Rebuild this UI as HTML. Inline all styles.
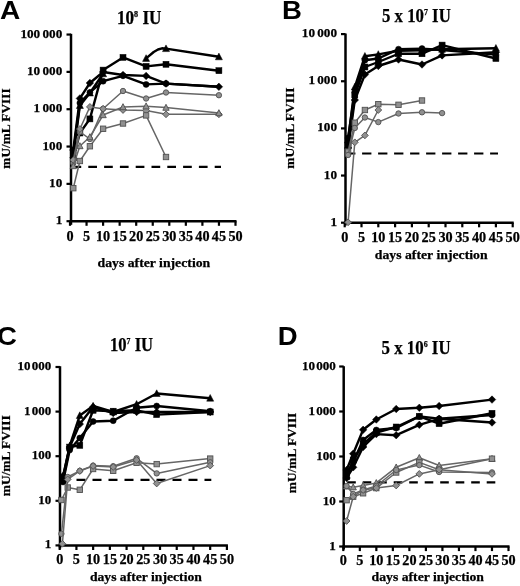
<!DOCTYPE html>
<html><head><meta charset="utf-8"><style>
html,body{margin:0;padding:0;background:#fff;}
svg{display:block;will-change:transform;}
</style></head><body>
<svg width="520" height="586" viewBox="0 0 520 586">
<rect width="520" height="586" fill="#fff"/>
<line x1="71.0" y1="33.8" x2="71.0" y2="224.8" stroke="#000" stroke-width="2.5"/>
<line x1="69.8" y1="221.2" x2="236.5" y2="221.2" stroke="#000" stroke-width="2.5"/>
<line x1="66.5" y1="221.2" x2="71.0" y2="221.2" stroke="#000" stroke-width="2.2"/>
<text x="62.3" y="224.2" font-size="13" font-family='"Liberation Serif", serif' font-weight="bold" text-anchor="end" textLength="6.6" lengthAdjust="spacingAndGlyphs" stroke="#000" stroke-width="0.25" >1</text>
<line x1="66.5" y1="183.87" x2="71.0" y2="183.87" stroke="#000" stroke-width="2.2"/>
<text x="62.3" y="186.9" font-size="13" font-family='"Liberation Serif", serif' font-weight="bold" text-anchor="end" textLength="13.2" lengthAdjust="spacingAndGlyphs" stroke="#000" stroke-width="0.25" >10</text>
<line x1="66.5" y1="146.54" x2="71.0" y2="146.54" stroke="#000" stroke-width="2.2"/>
<text x="62.3" y="149.5" font-size="13" font-family='"Liberation Serif", serif' font-weight="bold" text-anchor="end" textLength="19.8" lengthAdjust="spacingAndGlyphs" stroke="#000" stroke-width="0.25" >100</text>
<line x1="66.5" y1="109.21" x2="71.0" y2="109.21" stroke="#000" stroke-width="2.2"/>
<text x="62.3" y="112.2" font-size="13" font-family='"Liberation Serif", serif' font-weight="bold" text-anchor="end" textLength="19.8" lengthAdjust="spacingAndGlyphs" stroke="#000" stroke-width="0.25" >000</text>
<text x="40.2" y="112.2" font-size="13" font-family='"Liberation Serif", serif' font-weight="bold" text-anchor="end" textLength="6.6" lengthAdjust="spacingAndGlyphs" stroke="#000" stroke-width="0.25" >1</text>
<line x1="66.5" y1="71.88" x2="71.0" y2="71.88" stroke="#000" stroke-width="2.2"/>
<text x="62.3" y="74.9" font-size="13" font-family='"Liberation Serif", serif' font-weight="bold" text-anchor="end" textLength="19.8" lengthAdjust="spacingAndGlyphs" stroke="#000" stroke-width="0.25" >000</text>
<text x="40.2" y="74.9" font-size="13" font-family='"Liberation Serif", serif' font-weight="bold" text-anchor="end" textLength="13.2" lengthAdjust="spacingAndGlyphs" stroke="#000" stroke-width="0.25" >10</text>
<line x1="66.5" y1="34.55000000000001" x2="71.0" y2="34.55000000000001" stroke="#000" stroke-width="2.2"/>
<text x="62.3" y="37.6" font-size="13" font-family='"Liberation Serif", serif' font-weight="bold" text-anchor="end" textLength="19.8" lengthAdjust="spacingAndGlyphs" stroke="#000" stroke-width="0.25" >000</text>
<text x="40.2" y="37.6" font-size="13" font-family='"Liberation Serif", serif' font-weight="bold" text-anchor="end" textLength="19.8" lengthAdjust="spacingAndGlyphs" stroke="#000" stroke-width="0.25" >100</text>
<line x1="70.0" y1="221.2" x2="70.0" y2="225.79999999999998" stroke="#000" stroke-width="2.2"/>
<text x="70.0" y="240.8" font-size="14" font-family='"Liberation Serif", serif' font-weight="bold" text-anchor="middle" textLength="7.1" lengthAdjust="spacingAndGlyphs" stroke="#000" stroke-width="0.25" >0</text>
<line x1="86.55" y1="221.2" x2="86.55" y2="225.79999999999998" stroke="#000" stroke-width="2.2"/>
<text x="86.5" y="240.8" font-size="14" font-family='"Liberation Serif", serif' font-weight="bold" text-anchor="middle" textLength="7.1" lengthAdjust="spacingAndGlyphs" stroke="#000" stroke-width="0.25" >5</text>
<line x1="103.1" y1="221.2" x2="103.1" y2="225.79999999999998" stroke="#000" stroke-width="2.2"/>
<text x="103.1" y="240.8" font-size="14" font-family='"Liberation Serif", serif' font-weight="bold" text-anchor="middle" textLength="14.2" lengthAdjust="spacingAndGlyphs" stroke="#000" stroke-width="0.25" >10</text>
<line x1="119.65" y1="221.2" x2="119.65" y2="225.79999999999998" stroke="#000" stroke-width="2.2"/>
<text x="119.7" y="240.8" font-size="14" font-family='"Liberation Serif", serif' font-weight="bold" text-anchor="middle" textLength="14.2" lengthAdjust="spacingAndGlyphs" stroke="#000" stroke-width="0.25" >15</text>
<line x1="136.2" y1="221.2" x2="136.2" y2="225.79999999999998" stroke="#000" stroke-width="2.2"/>
<text x="136.2" y="240.8" font-size="14" font-family='"Liberation Serif", serif' font-weight="bold" text-anchor="middle" textLength="14.2" lengthAdjust="spacingAndGlyphs" stroke="#000" stroke-width="0.25" >20</text>
<line x1="152.75" y1="221.2" x2="152.75" y2="225.79999999999998" stroke="#000" stroke-width="2.2"/>
<text x="152.8" y="240.8" font-size="14" font-family='"Liberation Serif", serif' font-weight="bold" text-anchor="middle" textLength="14.2" lengthAdjust="spacingAndGlyphs" stroke="#000" stroke-width="0.25" >25</text>
<line x1="169.3" y1="221.2" x2="169.3" y2="225.79999999999998" stroke="#000" stroke-width="2.2"/>
<text x="169.3" y="240.8" font-size="14" font-family='"Liberation Serif", serif' font-weight="bold" text-anchor="middle" textLength="14.2" lengthAdjust="spacingAndGlyphs" stroke="#000" stroke-width="0.25" >30</text>
<line x1="185.85000000000002" y1="221.2" x2="185.85000000000002" y2="225.79999999999998" stroke="#000" stroke-width="2.2"/>
<text x="185.9" y="240.8" font-size="14" font-family='"Liberation Serif", serif' font-weight="bold" text-anchor="middle" textLength="14.2" lengthAdjust="spacingAndGlyphs" stroke="#000" stroke-width="0.25" >35</text>
<line x1="202.4" y1="221.2" x2="202.4" y2="225.79999999999998" stroke="#000" stroke-width="2.2"/>
<text x="202.4" y="240.8" font-size="14" font-family='"Liberation Serif", serif' font-weight="bold" text-anchor="middle" textLength="14.2" lengthAdjust="spacingAndGlyphs" stroke="#000" stroke-width="0.25" >40</text>
<line x1="218.95" y1="221.2" x2="218.95" y2="225.79999999999998" stroke="#000" stroke-width="2.2"/>
<text x="218.9" y="240.8" font-size="14" font-family='"Liberation Serif", serif' font-weight="bold" text-anchor="middle" textLength="14.2" lengthAdjust="spacingAndGlyphs" stroke="#000" stroke-width="0.25" >45</text>
<line x1="235.5" y1="221.2" x2="235.5" y2="225.79999999999998" stroke="#000" stroke-width="2.2"/>
<text x="235.5" y="240.8" font-size="14" font-family='"Liberation Serif", serif' font-weight="bold" text-anchor="middle" textLength="14.2" lengthAdjust="spacingAndGlyphs" stroke="#000" stroke-width="0.25" >50</text>
<text x="97.6" y="266.7" font-size="13" font-family='"Liberation Serif", serif' font-weight="bold" text-anchor="start" textLength="112.6" lengthAdjust="spacingAndGlyphs" stroke="#000" stroke-width="0.25" >days after injection</text>
<text transform="translate(10.3,128.55) rotate(-90)" x="0" y="0" font-size="13.5" font-family='"Liberation Serif", serif' font-weight="bold" stroke="#000" stroke-width="0.25" text-anchor="middle" textLength="80.3" lengthAdjust="spacingAndGlyphs">mU/mL FVIII</text>
<text transform="translate(0.1,18.5) scale(1.1,1)" font-size="25.5" font-family='"Liberation Sans", sans-serif' font-weight="bold">A</text>
<text x="116.9" y="23.8" font-size="18" font-family='"Liberation Serif", serif' font-weight="bold" stroke="#000" stroke-width="0.25" textLength="44.6" lengthAdjust="spacingAndGlyphs">10<tspan font-size="8.5" dy="-6.8">8</tspan><tspan dy="6.8"> IU</tspan></text>
<line x1="72.5" y1="166.8" x2="221" y2="166.8" stroke="#000" stroke-width="2.2" stroke-dasharray="8.7 7.1"/>
<polyline points="73.3,158 79.9,133 89.9,118.9 103.1,70.1 123.0,57.4 146.1,66.4 166.0,64.3 218.9,70.7" fill="none" stroke="#000" stroke-width="2.4" stroke-linejoin="round"/>
<rect x="70.3" y="155.0" width="6.0" height="6.0" fill="#000" stroke="#000" stroke-width="0.5"/>
<rect x="76.9" y="130.0" width="6.0" height="6.0" fill="#000" stroke="#000" stroke-width="0.5"/>
<rect x="86.9" y="115.9" width="6.0" height="6.0" fill="#000" stroke="#000" stroke-width="0.5"/>
<rect x="100.1" y="67.1" width="6.0" height="6.0" fill="#000" stroke="#000" stroke-width="0.5"/>
<rect x="120.0" y="54.4" width="6.0" height="6.0" fill="#000" stroke="#000" stroke-width="0.5"/>
<rect x="143.1" y="63.400000000000006" width="6.0" height="6.0" fill="#000" stroke="#000" stroke-width="0.5"/>
<rect x="163.0" y="61.3" width="6.0" height="6.0" fill="#000" stroke="#000" stroke-width="0.5"/>
<rect x="215.9" y="67.7" width="6.0" height="6.0" fill="#000" stroke="#000" stroke-width="0.5"/>
<polyline points="73.3,150 79.9,98.4 89.9,83.0 103.1,72.0 123.0,75.0 146.1,75.9 166.0,83.6 218.9,86.8" fill="none" stroke="#000" stroke-width="2.4" stroke-linejoin="round"/>
<polygon points="73.3,146.25 77.05,150 73.3,153.75 69.55,150" fill="#000" stroke="#000" stroke-width="0.5"/>
<polygon points="79.9,94.65 83.65,98.4 79.9,102.15 76.15,98.4" fill="#000" stroke="#000" stroke-width="0.5"/>
<polygon points="89.9,79.25 93.65,83.0 89.9,86.75 86.15,83.0" fill="#000" stroke="#000" stroke-width="0.5"/>
<polygon points="103.1,68.25 106.85,72.0 103.1,75.75 99.35,72.0" fill="#000" stroke="#000" stroke-width="0.5"/>
<polygon points="123.0,71.25 126.75,75.0 123.0,78.75 119.25,75.0" fill="#000" stroke="#000" stroke-width="0.5"/>
<polygon points="146.1,72.15 149.85,75.9 146.1,79.65 142.35,75.9" fill="#000" stroke="#000" stroke-width="0.5"/>
<polygon points="166.0,79.85 169.75,83.6 166.0,87.35 162.25,83.6" fill="#000" stroke="#000" stroke-width="0.5"/>
<polygon points="218.9,83.05 222.65,86.8 218.9,90.55 215.15,86.8" fill="#000" stroke="#000" stroke-width="0.5"/>
<polyline points="73.3,153 79.9,103.0 89.9,92.4 103.1,81.2 123.0,75.8 146.1,84.4 166.0,83.6 218.9,86.8" fill="none" stroke="#000" stroke-width="2.4" stroke-linejoin="round"/>
<circle cx="73.3" cy="153" r="3.0" fill="#000" stroke="#000" stroke-width="0.5"/>
<circle cx="79.9" cy="103.0" r="3.0" fill="#000" stroke="#000" stroke-width="0.5"/>
<circle cx="89.9" cy="92.4" r="3.0" fill="#000" stroke="#000" stroke-width="0.5"/>
<circle cx="103.1" cy="81.2" r="3.0" fill="#000" stroke="#000" stroke-width="0.5"/>
<circle cx="123.0" cy="75.8" r="3.0" fill="#000" stroke="#000" stroke-width="0.5"/>
<circle cx="146.1" cy="84.4" r="3.0" fill="#000" stroke="#000" stroke-width="0.5"/>
<circle cx="166.0" cy="83.6" r="3.0" fill="#000" stroke="#000" stroke-width="0.5"/>
<polyline points="73.3,155 79.9,105.5 89.9,93.0 103.1,73.8" fill="none" stroke="#000" stroke-width="2.4" stroke-linejoin="round"/>
<polygon points="73.3,151.3145 76.81,157.9835 69.78999999999999,157.9835" fill="#000" stroke="#000" stroke-width="0.5"/>
<polygon points="79.9,101.8145 83.41000000000001,108.4835 76.39,108.4835" fill="#000" stroke="#000" stroke-width="0.5"/>
<polygon points="89.9,89.3145 93.41000000000001,95.9835 86.39,95.9835" fill="#000" stroke="#000" stroke-width="0.5"/>
<polygon points="103.1,70.11449999999999 106.61,76.7835 99.58999999999999,76.7835" fill="#000" stroke="#000" stroke-width="0.5"/>
<polyline points="146.1,58.4 153.7,52.0 158.0,49.5 162.0,48.3 166.0,48.6 218.9,56.8" fill="none" stroke="#000" stroke-width="2.4" stroke-linejoin="round"/>
<polygon points="146.1,54.7145 149.60999999999999,61.3835 142.59,61.3835" fill="#000" stroke="#000" stroke-width="0.5"/>
<polygon points="166.0,44.914500000000004 169.51,51.5835 162.49,51.5835" fill="#000" stroke="#000" stroke-width="0.5"/>
<polygon points="218.9,53.1145 222.41,59.7835 215.39000000000001,59.7835" fill="#000" stroke="#000" stroke-width="0.5"/>
<polyline points="73.3,163 79.9,131.9 89.9,139 103.1,108.75 123.0,91 146.1,98.5 166.0,92.5 218.9,95.2" fill="none" stroke="#666666" stroke-width="1.5" stroke-linejoin="round"/>
<circle cx="73.3" cy="163" r="2.7" fill="#909090" stroke="#505050" stroke-width="0.9"/>
<circle cx="79.9" cy="131.9" r="2.7" fill="#909090" stroke="#505050" stroke-width="0.9"/>
<circle cx="89.9" cy="139" r="2.7" fill="#909090" stroke="#505050" stroke-width="0.9"/>
<circle cx="103.1" cy="108.75" r="2.7" fill="#909090" stroke="#505050" stroke-width="0.9"/>
<circle cx="123.0" cy="91" r="2.7" fill="#909090" stroke="#505050" stroke-width="0.9"/>
<circle cx="146.1" cy="98.5" r="2.7" fill="#909090" stroke="#505050" stroke-width="0.9"/>
<circle cx="166.0" cy="92.5" r="2.7" fill="#909090" stroke="#505050" stroke-width="0.9"/>
<circle cx="218.9" cy="95.2" r="2.7" fill="#909090" stroke="#505050" stroke-width="0.9"/>
<polyline points="73.3,160 79.9,129 89.9,106.9 103.1,108.75 123.0,110 146.1,110.5 166.0,114.3 218.9,114.3" fill="none" stroke="#666666" stroke-width="1.5" stroke-linejoin="round"/>
<polygon points="73.3,156.625 76.675,160 73.3,163.375 69.925,160" fill="#909090" stroke="#505050" stroke-width="0.9"/>
<polygon points="79.9,125.625 83.275,129 79.9,132.375 76.525,129" fill="#909090" stroke="#505050" stroke-width="0.9"/>
<polygon points="89.9,103.525 93.275,106.9 89.9,110.275 86.525,106.9" fill="#909090" stroke="#505050" stroke-width="0.9"/>
<polygon points="103.1,105.375 106.475,108.75 103.1,112.125 99.725,108.75" fill="#909090" stroke="#505050" stroke-width="0.9"/>
<polygon points="123.0,106.625 126.375,110 123.0,113.375 119.625,110" fill="#909090" stroke="#505050" stroke-width="0.9"/>
<polygon points="146.1,107.125 149.475,110.5 146.1,113.875 142.725,110.5" fill="#909090" stroke="#505050" stroke-width="0.9"/>
<polygon points="166.0,110.925 169.375,114.3 166.0,117.675 162.625,114.3" fill="#909090" stroke="#505050" stroke-width="0.9"/>
<polygon points="218.9,110.925 222.275,114.3 218.9,117.675 215.525,114.3" fill="#909090" stroke="#505050" stroke-width="0.9"/>
<polyline points="73.3,166 79.9,146 89.9,137 103.1,115 123.0,107 146.1,106.2 166.0,107.6 218.9,113" fill="none" stroke="#666666" stroke-width="1.5" stroke-linejoin="round"/>
<polygon points="73.3,162.68305 76.459,168.68515 70.14099999999999,168.68515" fill="#909090" stroke="#505050" stroke-width="0.9"/>
<polygon points="79.9,142.68305 83.05900000000001,148.68515 76.741,148.68515" fill="#909090" stroke="#505050" stroke-width="0.9"/>
<polygon points="89.9,133.68305 93.05900000000001,139.68515 86.741,139.68515" fill="#909090" stroke="#505050" stroke-width="0.9"/>
<polygon points="103.1,111.68305 106.259,117.68515 99.94099999999999,117.68515" fill="#909090" stroke="#505050" stroke-width="0.9"/>
<polygon points="123.0,103.68305 126.159,109.68515 119.841,109.68515" fill="#909090" stroke="#505050" stroke-width="0.9"/>
<polygon points="146.1,102.88305 149.259,108.88515 142.941,108.88515" fill="#909090" stroke="#505050" stroke-width="0.9"/>
<polygon points="166.0,104.28304999999999 169.159,110.28514999999999 162.841,110.28514999999999" fill="#909090" stroke="#505050" stroke-width="0.9"/>
<polygon points="218.9,109.68305 222.059,115.68515 215.741,115.68515" fill="#909090" stroke="#505050" stroke-width="0.9"/>
<polyline points="73.3,188.2 79.9,161 89.9,146.25 103.1,128.75 123.0,123.5 146.1,115.4 166.0,157" fill="none" stroke="#666666" stroke-width="1.5" stroke-linejoin="round"/>
<rect x="70.6" y="185.5" width="5.4" height="5.4" fill="#909090" stroke="#505050" stroke-width="0.9"/>
<rect x="77.2" y="158.3" width="5.4" height="5.4" fill="#909090" stroke="#505050" stroke-width="0.9"/>
<rect x="87.2" y="143.55" width="5.4" height="5.4" fill="#909090" stroke="#505050" stroke-width="0.9"/>
<rect x="100.39999999999999" y="126.05" width="5.4" height="5.4" fill="#909090" stroke="#505050" stroke-width="0.9"/>
<rect x="120.3" y="120.8" width="5.4" height="5.4" fill="#909090" stroke="#505050" stroke-width="0.9"/>
<rect x="143.4" y="112.7" width="5.4" height="5.4" fill="#909090" stroke="#505050" stroke-width="0.9"/>
<rect x="163.3" y="154.3" width="5.4" height="5.4" fill="#909090" stroke="#505050" stroke-width="0.9"/>
<line x1="345.5" y1="33.5" x2="345.5" y2="225.5" stroke="#000" stroke-width="2.5"/>
<line x1="344.3" y1="222.7" x2="513.7" y2="222.7" stroke="#000" stroke-width="2.5"/>
<line x1="341.0" y1="222.7" x2="345.5" y2="222.7" stroke="#000" stroke-width="2.2"/>
<text x="337.0" y="225.7" font-size="13" font-family='"Liberation Serif", serif' font-weight="bold" text-anchor="end" textLength="6.6" lengthAdjust="spacingAndGlyphs" stroke="#000" stroke-width="0.25" >1</text>
<line x1="341.0" y1="175.54999999999998" x2="345.5" y2="175.54999999999998" stroke="#000" stroke-width="2.2"/>
<text x="337.0" y="178.5" font-size="13" font-family='"Liberation Serif", serif' font-weight="bold" text-anchor="end" textLength="13.2" lengthAdjust="spacingAndGlyphs" stroke="#000" stroke-width="0.25" >10</text>
<line x1="341.0" y1="128.39999999999998" x2="345.5" y2="128.39999999999998" stroke="#000" stroke-width="2.2"/>
<text x="337.0" y="131.4" font-size="13" font-family='"Liberation Serif", serif' font-weight="bold" text-anchor="end" textLength="19.8" lengthAdjust="spacingAndGlyphs" stroke="#000" stroke-width="0.25" >100</text>
<line x1="341.0" y1="81.25" x2="345.5" y2="81.25" stroke="#000" stroke-width="2.2"/>
<text x="337.0" y="84.2" font-size="13" font-family='"Liberation Serif", serif' font-weight="bold" text-anchor="end" textLength="19.8" lengthAdjust="spacingAndGlyphs" stroke="#000" stroke-width="0.25" >000</text>
<text x="315.0" y="84.2" font-size="13" font-family='"Liberation Serif", serif' font-weight="bold" text-anchor="end" textLength="6.6" lengthAdjust="spacingAndGlyphs" stroke="#000" stroke-width="0.25" >1</text>
<line x1="341.0" y1="34.099999999999994" x2="345.5" y2="34.099999999999994" stroke="#000" stroke-width="2.2"/>
<text x="337.0" y="37.1" font-size="13" font-family='"Liberation Serif", serif' font-weight="bold" text-anchor="end" textLength="19.8" lengthAdjust="spacingAndGlyphs" stroke="#000" stroke-width="0.25" >000</text>
<text x="315.0" y="37.1" font-size="13" font-family='"Liberation Serif", serif' font-weight="bold" text-anchor="end" textLength="13.2" lengthAdjust="spacingAndGlyphs" stroke="#000" stroke-width="0.25" >10</text>
<line x1="344.7" y1="222.7" x2="344.7" y2="227.29999999999998" stroke="#000" stroke-width="2.2"/>
<text x="344.7" y="242.3" font-size="14" font-family='"Liberation Serif", serif' font-weight="bold" text-anchor="middle" textLength="7.1" lengthAdjust="spacingAndGlyphs" stroke="#000" stroke-width="0.25" >0</text>
<line x1="361.5" y1="222.7" x2="361.5" y2="227.29999999999998" stroke="#000" stroke-width="2.2"/>
<text x="361.5" y="242.3" font-size="14" font-family='"Liberation Serif", serif' font-weight="bold" text-anchor="middle" textLength="7.1" lengthAdjust="spacingAndGlyphs" stroke="#000" stroke-width="0.25" >5</text>
<line x1="378.3" y1="222.7" x2="378.3" y2="227.29999999999998" stroke="#000" stroke-width="2.2"/>
<text x="378.3" y="242.3" font-size="14" font-family='"Liberation Serif", serif' font-weight="bold" text-anchor="middle" textLength="14.2" lengthAdjust="spacingAndGlyphs" stroke="#000" stroke-width="0.25" >10</text>
<line x1="395.09999999999997" y1="222.7" x2="395.09999999999997" y2="227.29999999999998" stroke="#000" stroke-width="2.2"/>
<text x="395.1" y="242.3" font-size="14" font-family='"Liberation Serif", serif' font-weight="bold" text-anchor="middle" textLength="14.2" lengthAdjust="spacingAndGlyphs" stroke="#000" stroke-width="0.25" >15</text>
<line x1="411.9" y1="222.7" x2="411.9" y2="227.29999999999998" stroke="#000" stroke-width="2.2"/>
<text x="411.9" y="242.3" font-size="14" font-family='"Liberation Serif", serif' font-weight="bold" text-anchor="middle" textLength="14.2" lengthAdjust="spacingAndGlyphs" stroke="#000" stroke-width="0.25" >20</text>
<line x1="428.7" y1="222.7" x2="428.7" y2="227.29999999999998" stroke="#000" stroke-width="2.2"/>
<text x="428.7" y="242.3" font-size="14" font-family='"Liberation Serif", serif' font-weight="bold" text-anchor="middle" textLength="14.2" lengthAdjust="spacingAndGlyphs" stroke="#000" stroke-width="0.25" >25</text>
<line x1="445.5" y1="222.7" x2="445.5" y2="227.29999999999998" stroke="#000" stroke-width="2.2"/>
<text x="445.5" y="242.3" font-size="14" font-family='"Liberation Serif", serif' font-weight="bold" text-anchor="middle" textLength="14.2" lengthAdjust="spacingAndGlyphs" stroke="#000" stroke-width="0.25" >30</text>
<line x1="462.29999999999995" y1="222.7" x2="462.29999999999995" y2="227.29999999999998" stroke="#000" stroke-width="2.2"/>
<text x="462.3" y="242.3" font-size="14" font-family='"Liberation Serif", serif' font-weight="bold" text-anchor="middle" textLength="14.2" lengthAdjust="spacingAndGlyphs" stroke="#000" stroke-width="0.25" >35</text>
<line x1="479.1" y1="222.7" x2="479.1" y2="227.29999999999998" stroke="#000" stroke-width="2.2"/>
<text x="479.1" y="242.3" font-size="14" font-family='"Liberation Serif", serif' font-weight="bold" text-anchor="middle" textLength="14.2" lengthAdjust="spacingAndGlyphs" stroke="#000" stroke-width="0.25" >40</text>
<line x1="495.9" y1="222.7" x2="495.9" y2="227.29999999999998" stroke="#000" stroke-width="2.2"/>
<text x="495.9" y="242.3" font-size="14" font-family='"Liberation Serif", serif' font-weight="bold" text-anchor="middle" textLength="14.2" lengthAdjust="spacingAndGlyphs" stroke="#000" stroke-width="0.25" >45</text>
<line x1="512.7" y1="222.7" x2="512.7" y2="227.29999999999998" stroke="#000" stroke-width="2.2"/>
<text x="512.7" y="242.3" font-size="14" font-family='"Liberation Serif", serif' font-weight="bold" text-anchor="middle" textLength="14.2" lengthAdjust="spacingAndGlyphs" stroke="#000" stroke-width="0.25" >50</text>
<text x="374.8" y="259.4" font-size="13" font-family='"Liberation Serif", serif' font-weight="bold" text-anchor="start" textLength="112.8" lengthAdjust="spacingAndGlyphs" stroke="#000" stroke-width="0.25" >days after injection</text>
<text transform="translate(293.6,128.1) rotate(-90)" x="0" y="0" font-size="13.5" font-family='"Liberation Serif", serif' font-weight="bold" stroke="#000" stroke-width="0.25" text-anchor="middle" textLength="81.2" lengthAdjust="spacingAndGlyphs">mU/mL FVIII</text>
<text transform="translate(282.1,18.8) scale(1.08,1)" font-size="25.5" font-family='"Liberation Sans", sans-serif' font-weight="bold">B</text>
<text x="382.0" y="21.5" font-size="18" font-family='"Liberation Serif", serif' font-weight="bold" stroke="#000" stroke-width="0.25" textLength="68.8" lengthAdjust="spacingAndGlyphs">5 x 10<tspan font-size="8.5" dy="-6.8">7</tspan><tspan dy="6.8"> IU</tspan></text>
<line x1="346.1" y1="153.5" x2="498" y2="153.5" stroke="#000" stroke-width="2.2" stroke-dasharray="9.3 6.7"/>
<polyline points="348.1,140 354.8,87 364.9,56.2 378.3,54.4 398.5,50.8 422.0,50.2 442.1,49.2 495.9,48.2" fill="none" stroke="#000" stroke-width="2.4" stroke-linejoin="round"/>
<polygon points="348.1,136.3145 351.61,142.9835 344.59000000000003,142.9835" fill="#000" stroke="#000" stroke-width="0.5"/>
<polygon points="354.8,83.3145 358.31,89.9835 351.29,89.9835" fill="#000" stroke="#000" stroke-width="0.5"/>
<polygon points="364.9,52.514500000000005 368.40999999999997,59.1835 361.39,59.1835" fill="#000" stroke="#000" stroke-width="0.5"/>
<polygon points="378.3,50.7145 381.81,57.3835 374.79,57.3835" fill="#000" stroke="#000" stroke-width="0.5"/>
<polygon points="398.5,47.1145 402.01,53.7835 394.99,53.7835" fill="#000" stroke="#000" stroke-width="0.5"/>
<polygon points="422.0,46.514500000000005 425.51,53.1835 418.49,53.1835" fill="#000" stroke="#000" stroke-width="0.5"/>
<polygon points="442.1,45.514500000000005 445.61,52.1835 438.59000000000003,52.1835" fill="#000" stroke="#000" stroke-width="0.5"/>
<polygon points="495.9,44.514500000000005 499.40999999999997,51.1835 492.39,51.1835" fill="#000" stroke="#000" stroke-width="0.5"/>
<polyline points="348.1,145 354.8,95 364.9,67 378.3,62 398.5,53.75 422.0,53.75 442.1,45.1 495.9,58.5" fill="none" stroke="#000" stroke-width="2.4" stroke-linejoin="round"/>
<rect x="345.1" y="142.0" width="6.0" height="6.0" fill="#000" stroke="#000" stroke-width="0.5"/>
<rect x="351.8" y="92.0" width="6.0" height="6.0" fill="#000" stroke="#000" stroke-width="0.5"/>
<rect x="361.9" y="64.0" width="6.0" height="6.0" fill="#000" stroke="#000" stroke-width="0.5"/>
<rect x="375.3" y="59.0" width="6.0" height="6.0" fill="#000" stroke="#000" stroke-width="0.5"/>
<rect x="395.5" y="50.75" width="6.0" height="6.0" fill="#000" stroke="#000" stroke-width="0.5"/>
<rect x="419.0" y="50.75" width="6.0" height="6.0" fill="#000" stroke="#000" stroke-width="0.5"/>
<rect x="439.1" y="42.1" width="6.0" height="6.0" fill="#000" stroke="#000" stroke-width="0.5"/>
<rect x="492.9" y="55.5" width="6.0" height="6.0" fill="#000" stroke="#000" stroke-width="0.5"/>
<polyline points="348.1,148 354.8,100 364.9,74.6 378.3,66 398.5,59.5 422.0,64.5 442.1,55.4 495.9,52.3" fill="none" stroke="#000" stroke-width="2.4" stroke-linejoin="round"/>
<polygon points="348.1,144.25 351.85,148 348.1,151.75 344.35,148" fill="#000" stroke="#000" stroke-width="0.5"/>
<polygon points="354.8,96.25 358.55,100 354.8,103.75 351.05,100" fill="#000" stroke="#000" stroke-width="0.5"/>
<polygon points="364.9,70.85 368.65,74.6 364.9,78.35 361.15,74.6" fill="#000" stroke="#000" stroke-width="0.5"/>
<polygon points="378.3,62.25 382.05,66 378.3,69.75 374.55,66" fill="#000" stroke="#000" stroke-width="0.5"/>
<polygon points="398.5,55.75 402.25,59.5 398.5,63.25 394.75,59.5" fill="#000" stroke="#000" stroke-width="0.5"/>
<polygon points="422.0,60.75 425.75,64.5 422.0,68.25 418.25,64.5" fill="#000" stroke="#000" stroke-width="0.5"/>
<polygon points="442.1,51.65 445.85,55.4 442.1,59.15 438.35,55.4" fill="#000" stroke="#000" stroke-width="0.5"/>
<polygon points="495.9,48.55 499.65,52.3 495.9,56.05 492.15,52.3" fill="#000" stroke="#000" stroke-width="0.5"/>
<polyline points="348.1,138 354.8,92 364.9,60.2 378.3,58.5 398.5,49.2 422.0,48.6 442.1,50 495.9,54.6" fill="none" stroke="#000" stroke-width="2.4" stroke-linejoin="round"/>
<circle cx="348.1" cy="138" r="3.0" fill="#000" stroke="#000" stroke-width="0.5"/>
<circle cx="354.8" cy="92" r="3.0" fill="#000" stroke="#000" stroke-width="0.5"/>
<circle cx="364.9" cy="60.2" r="3.0" fill="#000" stroke="#000" stroke-width="0.5"/>
<circle cx="378.3" cy="58.5" r="3.0" fill="#000" stroke="#000" stroke-width="0.5"/>
<circle cx="398.5" cy="49.2" r="3.0" fill="#000" stroke="#000" stroke-width="0.5"/>
<circle cx="422.0" cy="48.6" r="3.0" fill="#000" stroke="#000" stroke-width="0.5"/>
<circle cx="442.1" cy="50" r="3.0" fill="#000" stroke="#000" stroke-width="0.5"/>
<circle cx="495.9" cy="54.6" r="3.0" fill="#000" stroke="#000" stroke-width="0.5"/>
<polyline points="348.1,151.6 354.8,122.7 364.9,110 378.3,104.2 398.5,104.8 422.0,100.5" fill="none" stroke="#666666" stroke-width="1.5" stroke-linejoin="round"/>
<rect x="345.40000000000003" y="148.9" width="5.4" height="5.4" fill="#909090" stroke="#505050" stroke-width="0.9"/>
<rect x="352.1" y="120.0" width="5.4" height="5.4" fill="#909090" stroke="#505050" stroke-width="0.9"/>
<rect x="362.2" y="107.3" width="5.4" height="5.4" fill="#909090" stroke="#505050" stroke-width="0.9"/>
<rect x="375.6" y="101.5" width="5.4" height="5.4" fill="#909090" stroke="#505050" stroke-width="0.9"/>
<rect x="395.8" y="102.1" width="5.4" height="5.4" fill="#909090" stroke="#505050" stroke-width="0.9"/>
<rect x="419.3" y="97.8" width="5.4" height="5.4" fill="#909090" stroke="#505050" stroke-width="0.9"/>
<polyline points="348.1,155 354.8,128 364.9,117.5 378.3,122.1 398.5,113.5 422.0,112.3 442.1,113.1" fill="none" stroke="#666666" stroke-width="1.5" stroke-linejoin="round"/>
<circle cx="348.1" cy="155" r="2.7" fill="#909090" stroke="#505050" stroke-width="0.9"/>
<circle cx="354.8" cy="128" r="2.7" fill="#909090" stroke="#505050" stroke-width="0.9"/>
<circle cx="364.9" cy="117.5" r="2.7" fill="#909090" stroke="#505050" stroke-width="0.9"/>
<circle cx="378.3" cy="122.1" r="2.7" fill="#909090" stroke="#505050" stroke-width="0.9"/>
<circle cx="398.5" cy="113.5" r="2.7" fill="#909090" stroke="#505050" stroke-width="0.9"/>
<circle cx="422.0" cy="112.3" r="2.7" fill="#909090" stroke="#505050" stroke-width="0.9"/>
<circle cx="442.1" cy="113.1" r="2.7" fill="#909090" stroke="#505050" stroke-width="0.9"/>
<polyline points="348.1,222.3 354.8,142.3 364.9,135.4 378.3,110" fill="none" stroke="#666666" stroke-width="1.5" stroke-linejoin="round"/>
<polygon points="348.1,218.925 351.475,222.3 348.1,225.675 344.725,222.3" fill="#909090" stroke="#505050" stroke-width="0.9"/>
<polygon points="354.8,138.925 358.175,142.3 354.8,145.675 351.425,142.3" fill="#909090" stroke="#505050" stroke-width="0.9"/>
<polygon points="364.9,132.025 368.275,135.4 364.9,138.775 361.525,135.4" fill="#909090" stroke="#505050" stroke-width="0.9"/>
<polygon points="378.3,106.625 381.675,110 378.3,113.375 374.925,110" fill="#909090" stroke="#505050" stroke-width="0.9"/>
<line x1="60.0" y1="366.2" x2="60.0" y2="548.5" stroke="#000" stroke-width="2.5"/>
<line x1="58.8" y1="545.4" x2="227.89999999999998" y2="545.4" stroke="#000" stroke-width="2.5"/>
<line x1="55.5" y1="545.4" x2="60.0" y2="545.4" stroke="#000" stroke-width="2.2"/>
<text x="51.2" y="548.4" font-size="13" font-family='"Liberation Serif", serif' font-weight="bold" text-anchor="end" textLength="6.5" lengthAdjust="spacingAndGlyphs" stroke="#000" stroke-width="0.25" >1</text>
<line x1="55.5" y1="500.79999999999995" x2="60.0" y2="500.79999999999995" stroke="#000" stroke-width="2.2"/>
<text x="51.2" y="503.8" font-size="13" font-family='"Liberation Serif", serif' font-weight="bold" text-anchor="end" textLength="13.0" lengthAdjust="spacingAndGlyphs" stroke="#000" stroke-width="0.25" >10</text>
<line x1="55.5" y1="456.2" x2="60.0" y2="456.2" stroke="#000" stroke-width="2.2"/>
<text x="51.2" y="459.2" font-size="13" font-family='"Liberation Serif", serif' font-weight="bold" text-anchor="end" textLength="19.5" lengthAdjust="spacingAndGlyphs" stroke="#000" stroke-width="0.25" >100</text>
<line x1="55.5" y1="411.59999999999997" x2="60.0" y2="411.59999999999997" stroke="#000" stroke-width="2.2"/>
<text x="51.2" y="414.6" font-size="13" font-family='"Liberation Serif", serif' font-weight="bold" text-anchor="end" textLength="19.5" lengthAdjust="spacingAndGlyphs" stroke="#000" stroke-width="0.25" >000</text>
<text x="30.6" y="414.6" font-size="13" font-family='"Liberation Serif", serif' font-weight="bold" text-anchor="end" textLength="6.5" lengthAdjust="spacingAndGlyphs" stroke="#000" stroke-width="0.25" >1</text>
<line x1="55.5" y1="367.0" x2="60.0" y2="367.0" stroke="#000" stroke-width="2.2"/>
<text x="51.2" y="370.0" font-size="13" font-family='"Liberation Serif", serif' font-weight="bold" text-anchor="end" textLength="19.5" lengthAdjust="spacingAndGlyphs" stroke="#000" stroke-width="0.25" >000</text>
<text x="30.6" y="370.0" font-size="13" font-family='"Liberation Serif", serif' font-weight="bold" text-anchor="end" textLength="13.0" lengthAdjust="spacingAndGlyphs" stroke="#000" stroke-width="0.25" >10</text>
<line x1="59.7" y1="545.4" x2="59.7" y2="550.0" stroke="#000" stroke-width="2.2"/>
<text x="59.7" y="564.2" font-size="14" font-family='"Liberation Serif", serif' font-weight="bold" text-anchor="middle" textLength="7.1" lengthAdjust="spacingAndGlyphs" stroke="#000" stroke-width="0.25" >0</text>
<line x1="76.42" y1="545.4" x2="76.42" y2="550.0" stroke="#000" stroke-width="2.2"/>
<text x="76.4" y="564.2" font-size="14" font-family='"Liberation Serif", serif' font-weight="bold" text-anchor="middle" textLength="7.1" lengthAdjust="spacingAndGlyphs" stroke="#000" stroke-width="0.25" >5</text>
<line x1="93.14" y1="545.4" x2="93.14" y2="550.0" stroke="#000" stroke-width="2.2"/>
<text x="93.1" y="564.2" font-size="14" font-family='"Liberation Serif", serif' font-weight="bold" text-anchor="middle" textLength="14.2" lengthAdjust="spacingAndGlyphs" stroke="#000" stroke-width="0.25" >10</text>
<line x1="109.86" y1="545.4" x2="109.86" y2="550.0" stroke="#000" stroke-width="2.2"/>
<text x="109.9" y="564.2" font-size="14" font-family='"Liberation Serif", serif' font-weight="bold" text-anchor="middle" textLength="14.2" lengthAdjust="spacingAndGlyphs" stroke="#000" stroke-width="0.25" >15</text>
<line x1="126.58" y1="545.4" x2="126.58" y2="550.0" stroke="#000" stroke-width="2.2"/>
<text x="126.6" y="564.2" font-size="14" font-family='"Liberation Serif", serif' font-weight="bold" text-anchor="middle" textLength="14.2" lengthAdjust="spacingAndGlyphs" stroke="#000" stroke-width="0.25" >20</text>
<line x1="143.3" y1="545.4" x2="143.3" y2="550.0" stroke="#000" stroke-width="2.2"/>
<text x="143.3" y="564.2" font-size="14" font-family='"Liberation Serif", serif' font-weight="bold" text-anchor="middle" textLength="14.2" lengthAdjust="spacingAndGlyphs" stroke="#000" stroke-width="0.25" >25</text>
<line x1="160.01999999999998" y1="545.4" x2="160.01999999999998" y2="550.0" stroke="#000" stroke-width="2.2"/>
<text x="160.0" y="564.2" font-size="14" font-family='"Liberation Serif", serif' font-weight="bold" text-anchor="middle" textLength="14.2" lengthAdjust="spacingAndGlyphs" stroke="#000" stroke-width="0.25" >30</text>
<line x1="176.74" y1="545.4" x2="176.74" y2="550.0" stroke="#000" stroke-width="2.2"/>
<text x="176.7" y="564.2" font-size="14" font-family='"Liberation Serif", serif' font-weight="bold" text-anchor="middle" textLength="14.2" lengthAdjust="spacingAndGlyphs" stroke="#000" stroke-width="0.25" >35</text>
<line x1="193.45999999999998" y1="545.4" x2="193.45999999999998" y2="550.0" stroke="#000" stroke-width="2.2"/>
<text x="193.5" y="564.2" font-size="14" font-family='"Liberation Serif", serif' font-weight="bold" text-anchor="middle" textLength="14.2" lengthAdjust="spacingAndGlyphs" stroke="#000" stroke-width="0.25" >40</text>
<line x1="210.18" y1="545.4" x2="210.18" y2="550.0" stroke="#000" stroke-width="2.2"/>
<text x="210.2" y="564.2" font-size="14" font-family='"Liberation Serif", serif' font-weight="bold" text-anchor="middle" textLength="14.2" lengthAdjust="spacingAndGlyphs" stroke="#000" stroke-width="0.25" >45</text>
<line x1="226.89999999999998" y1="545.4" x2="226.89999999999998" y2="550.0" stroke="#000" stroke-width="2.2"/>
<text x="226.9" y="564.2" font-size="14" font-family='"Liberation Serif", serif' font-weight="bold" text-anchor="middle" textLength="14.2" lengthAdjust="spacingAndGlyphs" stroke="#000" stroke-width="0.25" >50</text>
<text x="89.9" y="581.0" font-size="13" font-family='"Liberation Serif", serif' font-weight="bold" text-anchor="start" textLength="112.0" lengthAdjust="spacingAndGlyphs" stroke="#000" stroke-width="0.25" >days after injection</text>
<text transform="translate(10.2,455.85) rotate(-90)" x="0" y="0" font-size="13.5" font-family='"Liberation Serif", serif' font-weight="bold" stroke="#000" stroke-width="0.25" text-anchor="middle" textLength="80.9" lengthAdjust="spacingAndGlyphs">mU/mL FVIII</text>
<text transform="translate(-2.9,344.6) scale(1.08,1)" font-size="25.5" font-family='"Liberation Sans", sans-serif' font-weight="bold">C</text>
<text x="110.0" y="350.5" font-size="18" font-family='"Liberation Serif", serif' font-weight="bold" stroke="#000" stroke-width="0.25" textLength="43.1" lengthAdjust="spacingAndGlyphs">10<tspan font-size="8.5" dy="-6.8">7</tspan><tspan dy="6.8"> IU</tspan></text>
<line x1="60.5" y1="479.8" x2="211.3" y2="479.8" stroke="#000" stroke-width="2.2" stroke-dasharray="9 7"/>
<polyline points="63.0,478 69.7,445.8 79.8,415.5 93.1,406 113.2,412 136.6,404.2 156.7,393.5 210.2,398.2" fill="none" stroke="#000" stroke-width="2.4" stroke-linejoin="round"/>
<polygon points="63.0,474.3145 66.51,480.9835 59.49,480.9835" fill="#000" stroke="#000" stroke-width="0.5"/>
<polygon points="69.7,442.1145 73.21000000000001,448.7835 66.19,448.7835" fill="#000" stroke="#000" stroke-width="0.5"/>
<polygon points="79.8,411.8145 83.31,418.4835 76.28999999999999,418.4835" fill="#000" stroke="#000" stroke-width="0.5"/>
<polygon points="93.1,402.3145 96.61,408.9835 89.58999999999999,408.9835" fill="#000" stroke="#000" stroke-width="0.5"/>
<polygon points="113.2,408.3145 116.71000000000001,414.9835 109.69,414.9835" fill="#000" stroke="#000" stroke-width="0.5"/>
<polygon points="136.6,400.5145 140.10999999999999,407.1835 133.09,407.1835" fill="#000" stroke="#000" stroke-width="0.5"/>
<polygon points="156.7,389.8145 160.20999999999998,396.4835 153.19,396.4835" fill="#000" stroke="#000" stroke-width="0.5"/>
<polygon points="210.2,394.5145 213.70999999999998,401.1835 206.69,401.1835" fill="#000" stroke="#000" stroke-width="0.5"/>
<polyline points="63.0,480 69.7,447.1 79.8,445.4 93.1,410.3 113.2,411.2 136.6,410.3 156.7,414.6 210.2,412" fill="none" stroke="#000" stroke-width="2.4" stroke-linejoin="round"/>
<rect x="60.0" y="477.0" width="6.0" height="6.0" fill="#000" stroke="#000" stroke-width="0.5"/>
<rect x="66.7" y="444.1" width="6.0" height="6.0" fill="#000" stroke="#000" stroke-width="0.5"/>
<rect x="76.8" y="442.4" width="6.0" height="6.0" fill="#000" stroke="#000" stroke-width="0.5"/>
<rect x="90.1" y="407.3" width="6.0" height="6.0" fill="#000" stroke="#000" stroke-width="0.5"/>
<rect x="110.2" y="408.2" width="6.0" height="6.0" fill="#000" stroke="#000" stroke-width="0.5"/>
<rect x="133.6" y="407.3" width="6.0" height="6.0" fill="#000" stroke="#000" stroke-width="0.5"/>
<rect x="153.7" y="411.6" width="6.0" height="6.0" fill="#000" stroke="#000" stroke-width="0.5"/>
<rect x="207.2" y="409.0" width="6.0" height="6.0" fill="#000" stroke="#000" stroke-width="0.5"/>
<polyline points="63.0,476 69.7,447 79.8,424.1 93.1,407 113.2,413 136.6,412 156.7,412 210.2,412" fill="none" stroke="#000" stroke-width="2.4" stroke-linejoin="round"/>
<polygon points="63.0,472.25 66.75,476 63.0,479.75 59.25,476" fill="#000" stroke="#000" stroke-width="0.5"/>
<polygon points="69.7,443.25 73.45,447 69.7,450.75 65.95,447" fill="#000" stroke="#000" stroke-width="0.5"/>
<polygon points="79.8,420.35 83.55,424.1 79.8,427.85 76.05,424.1" fill="#000" stroke="#000" stroke-width="0.5"/>
<polygon points="93.1,403.25 96.85,407 93.1,410.75 89.35,407" fill="#000" stroke="#000" stroke-width="0.5"/>
<polygon points="113.2,409.25 116.95,413 113.2,416.75 109.45,413" fill="#000" stroke="#000" stroke-width="0.5"/>
<polygon points="136.6,408.25 140.35,412 136.6,415.75 132.85,412" fill="#000" stroke="#000" stroke-width="0.5"/>
<polygon points="156.7,408.25 160.45,412 156.7,415.75 152.95,412" fill="#000" stroke="#000" stroke-width="0.5"/>
<polygon points="210.2,408.25 213.95,412 210.2,415.75 206.45,412" fill="#000" stroke="#000" stroke-width="0.5"/>
<polyline points="63.0,482 69.7,450 79.8,438 93.1,421.5 113.2,420.7 136.6,407.7 156.7,406 210.2,411.2" fill="none" stroke="#000" stroke-width="2.4" stroke-linejoin="round"/>
<circle cx="63.0" cy="482" r="3.0" fill="#000" stroke="#000" stroke-width="0.5"/>
<circle cx="69.7" cy="450" r="3.0" fill="#000" stroke="#000" stroke-width="0.5"/>
<circle cx="79.8" cy="438" r="3.0" fill="#000" stroke="#000" stroke-width="0.5"/>
<circle cx="93.1" cy="421.5" r="3.0" fill="#000" stroke="#000" stroke-width="0.5"/>
<circle cx="113.2" cy="420.7" r="3.0" fill="#000" stroke="#000" stroke-width="0.5"/>
<circle cx="136.6" cy="407.7" r="3.0" fill="#000" stroke="#000" stroke-width="0.5"/>
<circle cx="156.7" cy="406" r="3.0" fill="#000" stroke="#000" stroke-width="0.5"/>
<circle cx="210.2" cy="411.2" r="3.0" fill="#000" stroke="#000" stroke-width="0.5"/>
<polyline points="61.4,500 67.7,487.5 79.8,489.8 93.1,469 113.2,470.8 136.6,462.8 156.7,464.1 210.2,458.6" fill="none" stroke="#666666" stroke-width="1.5" stroke-linejoin="round"/>
<rect x="58.699999999999996" y="497.3" width="5.4" height="5.4" fill="#909090" stroke="#505050" stroke-width="0.9"/>
<rect x="65.0" y="484.8" width="5.4" height="5.4" fill="#909090" stroke="#505050" stroke-width="0.9"/>
<rect x="77.1" y="487.1" width="5.4" height="5.4" fill="#909090" stroke="#505050" stroke-width="0.9"/>
<rect x="90.39999999999999" y="466.3" width="5.4" height="5.4" fill="#909090" stroke="#505050" stroke-width="0.9"/>
<rect x="110.5" y="468.1" width="5.4" height="5.4" fill="#909090" stroke="#505050" stroke-width="0.9"/>
<rect x="133.9" y="460.1" width="5.4" height="5.4" fill="#909090" stroke="#505050" stroke-width="0.9"/>
<rect x="154.0" y="461.40000000000003" width="5.4" height="5.4" fill="#909090" stroke="#505050" stroke-width="0.9"/>
<rect x="207.5" y="455.90000000000003" width="5.4" height="5.4" fill="#909090" stroke="#505050" stroke-width="0.9"/>
<polyline points="61.4,533.8 67.7,477 79.8,470.8 93.1,465.6 113.2,466.2 136.6,458.3 156.7,473.4 210.2,462.3" fill="none" stroke="#666666" stroke-width="1.5" stroke-linejoin="round"/>
<circle cx="61.4" cy="533.8" r="2.7" fill="#909090" stroke="#505050" stroke-width="0.9"/>
<circle cx="67.7" cy="477" r="2.7" fill="#909090" stroke="#505050" stroke-width="0.9"/>
<circle cx="79.8" cy="470.8" r="2.7" fill="#909090" stroke="#505050" stroke-width="0.9"/>
<circle cx="93.1" cy="465.6" r="2.7" fill="#909090" stroke="#505050" stroke-width="0.9"/>
<circle cx="113.2" cy="466.2" r="2.7" fill="#909090" stroke="#505050" stroke-width="0.9"/>
<circle cx="136.6" cy="458.3" r="2.7" fill="#909090" stroke="#505050" stroke-width="0.9"/>
<circle cx="156.7" cy="473.4" r="2.7" fill="#909090" stroke="#505050" stroke-width="0.9"/>
<circle cx="210.2" cy="462.3" r="2.7" fill="#909090" stroke="#505050" stroke-width="0.9"/>
<polyline points="62.4,543.8 67.7,479.4 79.8,471 93.1,466 113.2,467 136.6,460 156.7,483.5 210.2,465.6" fill="none" stroke="#666666" stroke-width="1.5" stroke-linejoin="round"/>
<polygon points="62.4,540.425 65.775,543.8 62.4,547.175 59.025,543.8" fill="#909090" stroke="#505050" stroke-width="0.9"/>
<polygon points="67.7,476.025 71.075,479.4 67.7,482.775 64.325,479.4" fill="#909090" stroke="#505050" stroke-width="0.9"/>
<polygon points="79.8,467.625 83.175,471 79.8,474.375 76.425,471" fill="#909090" stroke="#505050" stroke-width="0.9"/>
<polygon points="93.1,462.625 96.475,466 93.1,469.375 89.725,466" fill="#909090" stroke="#505050" stroke-width="0.9"/>
<polygon points="113.2,463.625 116.575,467 113.2,470.375 109.825,467" fill="#909090" stroke="#505050" stroke-width="0.9"/>
<polygon points="136.6,456.625 139.975,460 136.6,463.375 133.225,460" fill="#909090" stroke="#505050" stroke-width="0.9"/>
<polygon points="156.7,480.125 160.075,483.5 156.7,486.875 153.325,483.5" fill="#909090" stroke="#505050" stroke-width="0.9"/>
<polygon points="210.2,462.225 213.575,465.6 210.2,468.975 206.825,465.6" fill="#909090" stroke="#505050" stroke-width="0.9"/>
<line x1="343.7" y1="366.2" x2="343.7" y2="549.5" stroke="#000" stroke-width="2.5"/>
<line x1="342.5" y1="546.5" x2="509.5" y2="546.5" stroke="#000" stroke-width="2.5"/>
<line x1="339.2" y1="546.5" x2="343.7" y2="546.5" stroke="#000" stroke-width="2.2"/>
<text x="335.8" y="549.5" font-size="13" font-family='"Liberation Serif", serif' font-weight="bold" text-anchor="end" textLength="6.55" lengthAdjust="spacingAndGlyphs" stroke="#000" stroke-width="0.25" >1</text>
<line x1="339.2" y1="501.5" x2="343.7" y2="501.5" stroke="#000" stroke-width="2.2"/>
<text x="335.8" y="504.5" font-size="13" font-family='"Liberation Serif", serif' font-weight="bold" text-anchor="end" textLength="13.1" lengthAdjust="spacingAndGlyphs" stroke="#000" stroke-width="0.25" >10</text>
<line x1="339.2" y1="456.5" x2="343.7" y2="456.5" stroke="#000" stroke-width="2.2"/>
<text x="335.8" y="459.5" font-size="13" font-family='"Liberation Serif", serif' font-weight="bold" text-anchor="end" textLength="19.65" lengthAdjust="spacingAndGlyphs" stroke="#000" stroke-width="0.25" >100</text>
<line x1="339.2" y1="411.5" x2="343.7" y2="411.5" stroke="#000" stroke-width="2.2"/>
<text x="335.8" y="414.5" font-size="13" font-family='"Liberation Serif", serif' font-weight="bold" text-anchor="end" textLength="19.65" lengthAdjust="spacingAndGlyphs" stroke="#000" stroke-width="0.25" >000</text>
<text x="315.05" y="414.5" font-size="13" font-family='"Liberation Serif", serif' font-weight="bold" text-anchor="end" textLength="6.55" lengthAdjust="spacingAndGlyphs" stroke="#000" stroke-width="0.25" >1</text>
<line x1="339.2" y1="366.5" x2="343.7" y2="366.5" stroke="#000" stroke-width="2.2"/>
<text x="335.8" y="369.5" font-size="13" font-family='"Liberation Serif", serif' font-weight="bold" text-anchor="end" textLength="19.65" lengthAdjust="spacingAndGlyphs" stroke="#000" stroke-width="0.25" >000</text>
<text x="315.05" y="369.5" font-size="13" font-family='"Liberation Serif", serif' font-weight="bold" text-anchor="end" textLength="13.1" lengthAdjust="spacingAndGlyphs" stroke="#000" stroke-width="0.25" >10</text>
<line x1="343.3" y1="546.5" x2="343.3" y2="551.1" stroke="#000" stroke-width="2.2"/>
<text x="343.3" y="565.0" font-size="14" font-family='"Liberation Serif", serif' font-weight="bold" text-anchor="middle" textLength="7.1" lengthAdjust="spacingAndGlyphs" stroke="#000" stroke-width="0.25" >0</text>
<line x1="359.82" y1="546.5" x2="359.82" y2="551.1" stroke="#000" stroke-width="2.2"/>
<text x="359.8" y="565.0" font-size="14" font-family='"Liberation Serif", serif' font-weight="bold" text-anchor="middle" textLength="7.1" lengthAdjust="spacingAndGlyphs" stroke="#000" stroke-width="0.25" >5</text>
<line x1="376.34000000000003" y1="546.5" x2="376.34000000000003" y2="551.1" stroke="#000" stroke-width="2.2"/>
<text x="376.3" y="565.0" font-size="14" font-family='"Liberation Serif", serif' font-weight="bold" text-anchor="middle" textLength="14.2" lengthAdjust="spacingAndGlyphs" stroke="#000" stroke-width="0.25" >10</text>
<line x1="392.86" y1="546.5" x2="392.86" y2="551.1" stroke="#000" stroke-width="2.2"/>
<text x="392.9" y="565.0" font-size="14" font-family='"Liberation Serif", serif' font-weight="bold" text-anchor="middle" textLength="14.2" lengthAdjust="spacingAndGlyphs" stroke="#000" stroke-width="0.25" >15</text>
<line x1="409.38" y1="546.5" x2="409.38" y2="551.1" stroke="#000" stroke-width="2.2"/>
<text x="409.4" y="565.0" font-size="14" font-family='"Liberation Serif", serif' font-weight="bold" text-anchor="middle" textLength="14.2" lengthAdjust="spacingAndGlyphs" stroke="#000" stroke-width="0.25" >20</text>
<line x1="425.9" y1="546.5" x2="425.9" y2="551.1" stroke="#000" stroke-width="2.2"/>
<text x="425.9" y="565.0" font-size="14" font-family='"Liberation Serif", serif' font-weight="bold" text-anchor="middle" textLength="14.2" lengthAdjust="spacingAndGlyphs" stroke="#000" stroke-width="0.25" >25</text>
<line x1="442.42" y1="546.5" x2="442.42" y2="551.1" stroke="#000" stroke-width="2.2"/>
<text x="442.4" y="565.0" font-size="14" font-family='"Liberation Serif", serif' font-weight="bold" text-anchor="middle" textLength="14.2" lengthAdjust="spacingAndGlyphs" stroke="#000" stroke-width="0.25" >30</text>
<line x1="458.94" y1="546.5" x2="458.94" y2="551.1" stroke="#000" stroke-width="2.2"/>
<text x="458.9" y="565.0" font-size="14" font-family='"Liberation Serif", serif' font-weight="bold" text-anchor="middle" textLength="14.2" lengthAdjust="spacingAndGlyphs" stroke="#000" stroke-width="0.25" >35</text>
<line x1="475.46000000000004" y1="546.5" x2="475.46000000000004" y2="551.1" stroke="#000" stroke-width="2.2"/>
<text x="475.5" y="565.0" font-size="14" font-family='"Liberation Serif", serif' font-weight="bold" text-anchor="middle" textLength="14.2" lengthAdjust="spacingAndGlyphs" stroke="#000" stroke-width="0.25" >40</text>
<line x1="491.98" y1="546.5" x2="491.98" y2="551.1" stroke="#000" stroke-width="2.2"/>
<text x="492.0" y="565.0" font-size="14" font-family='"Liberation Serif", serif' font-weight="bold" text-anchor="middle" textLength="14.2" lengthAdjust="spacingAndGlyphs" stroke="#000" stroke-width="0.25" >45</text>
<line x1="508.5" y1="546.5" x2="508.5" y2="551.1" stroke="#000" stroke-width="2.2"/>
<text x="508.5" y="565.0" font-size="14" font-family='"Liberation Serif", serif' font-weight="bold" text-anchor="middle" textLength="14.2" lengthAdjust="spacingAndGlyphs" stroke="#000" stroke-width="0.25" >50</text>
<text x="371.6" y="581.2" font-size="13" font-family='"Liberation Serif", serif' font-weight="bold" text-anchor="start" textLength="112.4" lengthAdjust="spacingAndGlyphs" stroke="#000" stroke-width="0.25" >days after injection</text>
<text transform="translate(295.5,452.95) rotate(-90)" x="0" y="0" font-size="13.5" font-family='"Liberation Serif", serif' font-weight="bold" stroke="#000" stroke-width="0.25" text-anchor="middle" textLength="80.5" lengthAdjust="spacingAndGlyphs">mU/mL FVIII</text>
<text transform="translate(277.8,344.6) scale(1.08,1)" font-size="25.5" font-family='"Liberation Sans", sans-serif' font-weight="bold">D</text>
<text x="381.5" y="353.6" font-size="18" font-family='"Liberation Serif", serif' font-weight="bold" stroke="#000" stroke-width="0.25" textLength="69.1" lengthAdjust="spacingAndGlyphs">5 x 10<tspan font-size="8.5" dy="-6.8">6</tspan><tspan dy="6.8"> IU</tspan></text>
<line x1="347.2" y1="482.4" x2="496" y2="482.4" stroke="#000" stroke-width="2.2" stroke-dasharray="8.6 6.9"/>
<polyline points="346.6,470 353.2,453.7 363.1,429.8 376.3,419.5 396.2,409 419.3,407.8 439.1,406 492.0,399.6" fill="none" stroke="#000" stroke-width="2.4" stroke-linejoin="round"/>
<polygon points="346.6,466.25 350.35,470 346.6,473.75 342.85,470" fill="#000" stroke="#000" stroke-width="0.5"/>
<polygon points="353.2,449.95 356.95,453.7 353.2,457.45 349.45,453.7" fill="#000" stroke="#000" stroke-width="0.5"/>
<polygon points="363.1,426.05 366.85,429.8 363.1,433.55 359.35,429.8" fill="#000" stroke="#000" stroke-width="0.5"/>
<polygon points="376.3,415.75 380.05,419.5 376.3,423.25 372.55,419.5" fill="#000" stroke="#000" stroke-width="0.5"/>
<polygon points="396.2,405.25 399.95,409 396.2,412.75 392.45,409" fill="#000" stroke="#000" stroke-width="0.5"/>
<polygon points="419.3,404.05 423.05,407.8 419.3,411.55 415.55,407.8" fill="#000" stroke="#000" stroke-width="0.5"/>
<polygon points="439.1,402.25 442.85,406 439.1,409.75 435.35,406" fill="#000" stroke="#000" stroke-width="0.5"/>
<polygon points="492.0,395.85 495.75,399.6 492.0,403.35 488.25,399.6" fill="#000" stroke="#000" stroke-width="0.5"/>
<polyline points="346.6,476.8 353.2,460 363.1,444.1 376.3,432.5 396.2,427 419.3,416.4 439.1,423.7 492.0,413.3" fill="none" stroke="#000" stroke-width="2.4" stroke-linejoin="round"/>
<rect x="343.6" y="473.8" width="6.0" height="6.0" fill="#000" stroke="#000" stroke-width="0.5"/>
<rect x="350.2" y="457.0" width="6.0" height="6.0" fill="#000" stroke="#000" stroke-width="0.5"/>
<rect x="360.1" y="441.1" width="6.0" height="6.0" fill="#000" stroke="#000" stroke-width="0.5"/>
<rect x="373.3" y="429.5" width="6.0" height="6.0" fill="#000" stroke="#000" stroke-width="0.5"/>
<rect x="393.2" y="424.0" width="6.0" height="6.0" fill="#000" stroke="#000" stroke-width="0.5"/>
<rect x="416.3" y="413.4" width="6.0" height="6.0" fill="#000" stroke="#000" stroke-width="0.5"/>
<rect x="436.1" y="420.7" width="6.0" height="6.0" fill="#000" stroke="#000" stroke-width="0.5"/>
<rect x="489.0" y="410.3" width="6.0" height="6.0" fill="#000" stroke="#000" stroke-width="0.5"/>
<polyline points="346.6,478 353.2,467.3 363.1,447 376.3,434.1 396.2,435.2 419.3,424.8 439.1,418.8 492.0,422.5" fill="none" stroke="#000" stroke-width="2.4" stroke-linejoin="round"/>
<polygon points="346.6,474.25 350.35,478 346.6,481.75 342.85,478" fill="#000" stroke="#000" stroke-width="0.5"/>
<polygon points="353.2,463.55 356.95,467.3 353.2,471.05 349.45,467.3" fill="#000" stroke="#000" stroke-width="0.5"/>
<polygon points="363.1,443.25 366.85,447 363.1,450.75 359.35,447" fill="#000" stroke="#000" stroke-width="0.5"/>
<polygon points="376.3,430.35 380.05,434.1 376.3,437.85 372.55,434.1" fill="#000" stroke="#000" stroke-width="0.5"/>
<polygon points="396.2,431.45 399.95,435.2 396.2,438.95 392.45,435.2" fill="#000" stroke="#000" stroke-width="0.5"/>
<polygon points="419.3,421.05 423.05,424.8 419.3,428.55 415.55,424.8" fill="#000" stroke="#000" stroke-width="0.5"/>
<polygon points="439.1,415.05 442.85,418.8 439.1,422.55 435.35,418.8" fill="#000" stroke="#000" stroke-width="0.5"/>
<polygon points="492.0,418.75 495.75,422.5 492.0,426.25 488.25,422.5" fill="#000" stroke="#000" stroke-width="0.5"/>
<polyline points="346.6,474 353.2,462 363.1,440 376.3,430 396.2,428 419.3,416.4 439.1,418.8 492.0,415" fill="none" stroke="#000" stroke-width="2.4" stroke-linejoin="round"/>
<circle cx="346.6" cy="474" r="3.0" fill="#000" stroke="#000" stroke-width="0.5"/>
<circle cx="353.2" cy="462" r="3.0" fill="#000" stroke="#000" stroke-width="0.5"/>
<circle cx="363.1" cy="440" r="3.0" fill="#000" stroke="#000" stroke-width="0.5"/>
<circle cx="376.3" cy="430" r="3.0" fill="#000" stroke="#000" stroke-width="0.5"/>
<circle cx="396.2" cy="428" r="3.0" fill="#000" stroke="#000" stroke-width="0.5"/>
<circle cx="419.3" cy="416.4" r="3.0" fill="#000" stroke="#000" stroke-width="0.5"/>
<circle cx="439.1" cy="418.8" r="3.0" fill="#000" stroke="#000" stroke-width="0.5"/>
<circle cx="492.0" cy="415" r="3.0" fill="#000" stroke="#000" stroke-width="0.5"/>
<polyline points="346.6,486.3 353.2,487.2 363.1,485.5 376.3,482.9 396.2,467.3 419.3,457.8 439.1,465.5 492.0,458.7" fill="none" stroke="#666666" stroke-width="1.5" stroke-linejoin="round"/>
<polygon points="346.6,482.98305 349.759,488.98515000000003 343.44100000000003,488.98515000000003" fill="#909090" stroke="#505050" stroke-width="0.9"/>
<polygon points="353.2,483.88304999999997 356.359,489.88515 350.041,489.88515" fill="#909090" stroke="#505050" stroke-width="0.9"/>
<polygon points="363.1,482.18305 366.259,488.18515 359.94100000000003,488.18515" fill="#909090" stroke="#505050" stroke-width="0.9"/>
<polygon points="376.3,479.58304999999996 379.459,485.58515 373.141,485.58515" fill="#909090" stroke="#505050" stroke-width="0.9"/>
<polygon points="396.2,463.98305 399.359,469.98515000000003 393.041,469.98515000000003" fill="#909090" stroke="#505050" stroke-width="0.9"/>
<polygon points="419.3,454.48305 422.459,460.48515000000003 416.141,460.48515000000003" fill="#909090" stroke="#505050" stroke-width="0.9"/>
<polygon points="439.1,462.18305 442.259,468.18515 435.94100000000003,468.18515" fill="#909090" stroke="#505050" stroke-width="0.9"/>
<polygon points="492.0,455.38304999999997 495.159,461.38515 488.841,461.38515" fill="#909090" stroke="#505050" stroke-width="0.9"/>
<polyline points="346.6,500.2 353.2,496.7 363.1,493.3 376.3,488.1 396.2,472.5 419.3,462.4 439.1,469.7 492.0,458.7" fill="none" stroke="#666666" stroke-width="1.5" stroke-linejoin="round"/>
<rect x="343.90000000000003" y="497.5" width="5.4" height="5.4" fill="#909090" stroke="#505050" stroke-width="0.9"/>
<rect x="350.5" y="494.0" width="5.4" height="5.4" fill="#909090" stroke="#505050" stroke-width="0.9"/>
<rect x="360.40000000000003" y="490.6" width="5.4" height="5.4" fill="#909090" stroke="#505050" stroke-width="0.9"/>
<rect x="373.6" y="485.40000000000003" width="5.4" height="5.4" fill="#909090" stroke="#505050" stroke-width="0.9"/>
<rect x="393.5" y="469.8" width="5.4" height="5.4" fill="#909090" stroke="#505050" stroke-width="0.9"/>
<rect x="416.6" y="459.7" width="5.4" height="5.4" fill="#909090" stroke="#505050" stroke-width="0.9"/>
<rect x="436.40000000000003" y="467.0" width="5.4" height="5.4" fill="#909090" stroke="#505050" stroke-width="0.9"/>
<rect x="489.3" y="456.0" width="5.4" height="5.4" fill="#909090" stroke="#505050" stroke-width="0.9"/>
<polyline points="346.6,486 353.2,494 363.1,490 376.3,486 396.2,470 419.3,465.1 439.1,472 492.0,472.4" fill="none" stroke="#666666" stroke-width="1.5" stroke-linejoin="round"/>
<circle cx="346.6" cy="486" r="2.7" fill="#909090" stroke="#505050" stroke-width="0.9"/>
<circle cx="353.2" cy="494" r="2.7" fill="#909090" stroke="#505050" stroke-width="0.9"/>
<circle cx="363.1" cy="490" r="2.7" fill="#909090" stroke="#505050" stroke-width="0.9"/>
<circle cx="376.3" cy="486" r="2.7" fill="#909090" stroke="#505050" stroke-width="0.9"/>
<circle cx="396.2" cy="470" r="2.7" fill="#909090" stroke="#505050" stroke-width="0.9"/>
<circle cx="419.3" cy="465.1" r="2.7" fill="#909090" stroke="#505050" stroke-width="0.9"/>
<circle cx="439.1" cy="472" r="2.7" fill="#909090" stroke="#505050" stroke-width="0.9"/>
<circle cx="492.0" cy="472.4" r="2.7" fill="#909090" stroke="#505050" stroke-width="0.9"/>
<polyline points="346.6,521 353.2,496.7 363.1,490 376.3,488 396.2,485.5 419.3,473.9 439.1,469.7 492.0,473.9" fill="none" stroke="#666666" stroke-width="1.5" stroke-linejoin="round"/>
<polygon points="346.6,517.625 349.975,521 346.6,524.375 343.225,521" fill="#909090" stroke="#505050" stroke-width="0.9"/>
<polygon points="353.2,493.325 356.575,496.7 353.2,500.075 349.825,496.7" fill="#909090" stroke="#505050" stroke-width="0.9"/>
<polygon points="363.1,486.625 366.475,490 363.1,493.375 359.725,490" fill="#909090" stroke="#505050" stroke-width="0.9"/>
<polygon points="376.3,484.625 379.675,488 376.3,491.375 372.925,488" fill="#909090" stroke="#505050" stroke-width="0.9"/>
<polygon points="396.2,482.125 399.575,485.5 396.2,488.875 392.825,485.5" fill="#909090" stroke="#505050" stroke-width="0.9"/>
<polygon points="419.3,470.525 422.675,473.9 419.3,477.275 415.925,473.9" fill="#909090" stroke="#505050" stroke-width="0.9"/>
<polygon points="439.1,466.325 442.475,469.7 439.1,473.075 435.725,469.7" fill="#909090" stroke="#505050" stroke-width="0.9"/>
<polygon points="492.0,470.525 495.375,473.9 492.0,477.275 488.625,473.9" fill="#909090" stroke="#505050" stroke-width="0.9"/>
</svg>
</body></html>
